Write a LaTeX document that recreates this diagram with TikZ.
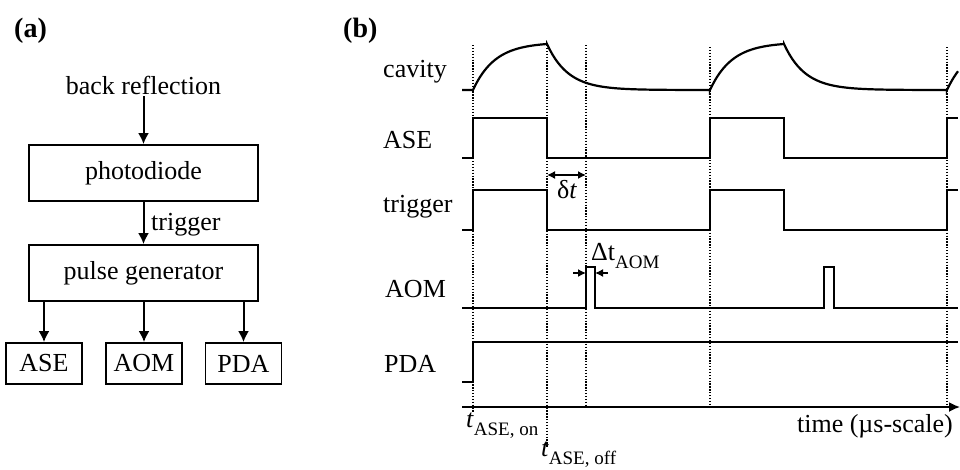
\documentclass[tikz,border=0pt]{standalone}
\usepackage{fontspec}
\setmainfont{Liberation Serif}
\usetikzlibrary{arrows.meta}
\newcommand{\mysub}[1]{\raisebox{-8pt}{\fontsize{19}{20}\selectfont #1}}
\begin{document}
\begin{tikzpicture}[x=1pt,y=-1pt,
  lbl/.style={font=\fontsize{26}{30}\selectfont, inner sep=0pt},
  ttl/.style={font=\fontsize{28}{30}\selectfont\bfseries, inner sep=0pt},
  blk/.style={draw, line width=1.8pt, minimum width=229pt, minimum height=56pt, lbl},
  sblk/.style={draw, line width=1.8pt, minimum width=76pt, minimum height=41pt, lbl},
  arr/.style={line width=2pt, -{Latex[length=11pt,width=11pt]}},
  sig/.style={line width=2.2pt, line join=miter},
  vgrid/.style={line width=1.3pt, dash pattern=on 1.3pt off 1.6pt},
  dtarr/.style={line width=1.4pt, -{Latex[length=8pt,width=8pt]}},
]
\useasboundingbox (0,0) rectangle (960,469);

% ---------- panel (a) ----------
\node[ttl, anchor=base west] (la) at (14,37) {(a)};
\node[lbl, anchor=base] (br) at (143.5,94) {back reflection};
\node[blk] (pd) at (143.5,173) {photodiode};
\node[blk] (pg) at (143.5,273) {pulse generator};
\node[sblk] (ase) at (44,363.5) {ASE};
\node[sblk] (aom) at (144,363.5) {AOM};
\node[sblk] (pda) at (243.5,363.5) {PDA};
\draw[arr, shorten <=2pt] (br.south) -- (pd.north);
\draw[arr] (pd.south) -- (pg.north);
\node[lbl, anchor=base west] (trg) at (151,230) {trigger};
\draw[arr] (ase.north |- pg.south) -- (ase.north);
\draw[arr] (aom.north |- pg.south) -- (aom.north);
\draw[arr] (pda.north |- pg.south) -- (pda.north);

% ---------- panel (b) ----------
\node[ttl, anchor=base west] (lb) at (343,37) {(b)};
\node[lbl, anchor=base west] (lcav) at (383,77) {cavity};
\node[lbl, anchor=base west] (lase) at (383,148) {ASE};
\node[lbl, anchor=base west] (ltrg) at (383,212) {trigger};
\node[lbl, anchor=base west] (laom) at (385,297) {AOM};
\node[lbl, anchor=base west] (lpda) at (384,372) {PDA};

% dotted time markers
\draw[vgrid] (473,45) -- (473,412);
\draw[vgrid] (547,45) -- (547,447);
\draw[vgrid] (586,45) -- (586,407);
\draw[vgrid] (710,47) -- (710,407);
\draw[vgrid] (947,47) -- (947,407);

% cavity
\draw[sig] (462,90) -- (473,90)
  -- plot[domain=473:547,samples=40] (\x,{90-46*(1-exp(-(\x-473)/22))/(1-exp(-74/22))})
  -- plot[domain=547:710,samples=60] (\x,{90-46*exp(-(\x-547)/21)})
  -- plot[domain=710:784,samples=40] (\x,{90-46*(1-exp(-(\x-710)/22))/(1-exp(-74/22))})
  -- plot[domain=784:947,samples=60] (\x,{90-46*exp(-(\x-784)/21)})
  -- plot[domain=947:958,samples=10] (\x,{90-46*(1-exp(-(\x-947)/22))/(1-exp(-74/22))});

% ASE
\draw[sig] (462,158) -| (473,118) -| (547,158) -| (710,118) -| (784,158) -| (947,118) -- (958,118);
% trigger
\draw[sig] (462,230) -| (473,190) -| (547,230) -| (710,190) -| (784,230) -| (947,190) -- (958,190);
% AOM
\draw[sig] (462,308) -| (586,267) -| (595,308) -| (824,267) -| (834,308) -- (958,308);
% PDA
\draw[sig] (462,382) -| (473,342) -- (958,342);

% time axis
\coordinate (ax0) at (462,407);
\coordinate (ax1) at (960,407);
\draw[line width=1.8pt, -{Latex[length=11pt,width=10pt]}] (ax0) -- (ax1);

% delta t
\coordinate (dt0) at (547,175);
\coordinate (dt1) at (586,175);
\draw[line width=1.4pt, {Latex[length=8pt,width=8pt]}-{Latex[length=8pt,width=8pt]}] (dt0) -- (dt1);
\node[lbl, anchor=base west] (ldt) at (557,198) {δ\textit{t}};

% Delta t AOM
\coordinate (da0) at (573,273);
\coordinate (da1) at (586,273);
\coordinate (db0) at (608,273);
\coordinate (db1) at (595,273);
\draw[dtarr] (da0) -- (da1);
\draw[dtarr] (db0) -- (db1);
\node[lbl, anchor=base west] (ldta) at (591,260) {Δt\mysub{AOM}};

% time labels
\node[lbl, anchor=base west] (ton) at (466,427) {\textit{t}\mysub{ASE, on}};
\node[lbl, anchor=base west] (toff) at (541,456) {\textit{t}\mysub{ASE, off}};
\node[lbl, anchor=base east] (ltime) at (953,432) {time (µs-scale)};
\end{tikzpicture}
\end{document}
